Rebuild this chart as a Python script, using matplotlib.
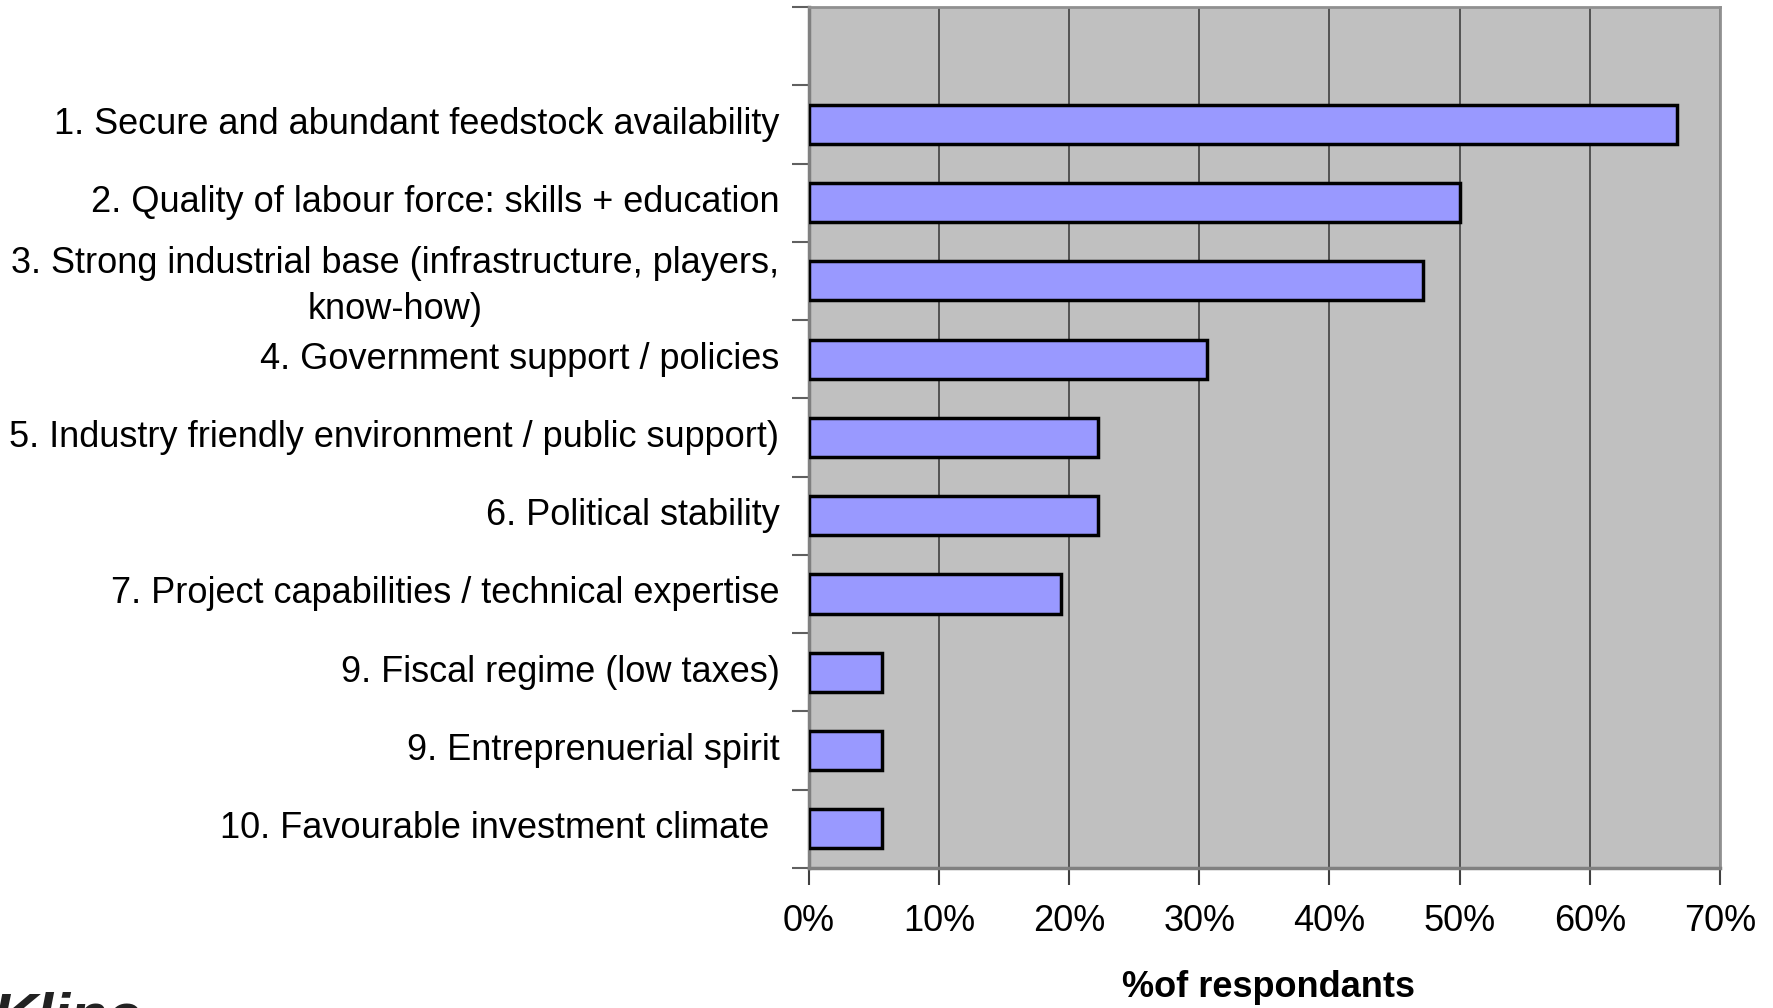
import numpy as np
import matplotlib
matplotlib.use("agg")
import matplotlib.pyplot as plt
from matplotlib.ticker import PercentFormatter, FixedLocator
from matplotlib.transforms import ScaledTranslation

plt.rcParams["font.family"] = ["Liberation Sans", "DejaVu Sans"]

factors = [
    "1. Secure and abundant feedstock availability",
    "2. Quality of labour force: skills + education",
    "3. Strong industrial base (infrastructure, players,\nknow-how)",
    "4. Government support / policies",
    "5. Industry friendly environment / public support)",
    "6. Political stability",
    "7. Project capabilities / technical expertise",
    "9. Fiscal regime (low taxes)",
    "9. Entreprenuerial spirit",
    "10. Favourable investment climate ",
]
share = [66.7, 50.0, 47.2, 30.6, 22.2, 22.2, 19.4, 5.6, 5.6, 5.6]
x_ticks = [0, 10, 20, 30, 40, 50, 60, 70]

fig = plt.figure(figsize=(17.73, 10.08), dpi=100)
ax = fig.add_axes([0.4561, 0.1389, 0.5140, 0.8542])
ax.set_facecolor("#C0C0C0")

# one empty slot at the top, factors below it
pos = np.arange(1, len(factors) + 1)
ax.barh(pos, share, height=0.5, color="#9999FF", edgecolor="black",
        linewidth=2.5, zorder=3)

ax.set_xlim(0, 70)
ax.set_ylim(len(factors) + 0.5, -0.5)
ax.set_xticks(x_ticks)
ax.xaxis.set_major_formatter(PercentFormatter(decimals=0))
ax.grid(axis="x", color="#404040", linewidth=1.2, zorder=1)

ax.yaxis.set_major_locator(FixedLocator(np.arange(-0.5, len(factors) + 1, 1)))
ax.yaxis.set_minor_locator(FixedLocator(pos))
ax.set_yticklabels([], minor=False)
ylabels = ax.set_yticklabels(factors, minor=True, fontsize=26,
                             multialignment="center", linespacing=1.4)
ax.tick_params(axis="y", which="major", length=12, width=1.5, color="#606060")
ax.tick_params(axis="y", which="minor", length=0, pad=21)
ax.tick_params(axis="x", length=12, width=1.5, color="#404040", pad=14,
               labelsize=26)

# nudge factor names up a little
shift = ScaledTranslation(0, 3 / 72, fig.dpi_scale_trans)
for lbl in ylabels:
    lbl.set_transform(lbl.get_transform() + shift)

for s in ["left", "bottom"]:
    ax.spines[s].set_color("#808080")
    ax.spines[s].set_linewidth(2.5)
for s in ["top", "right"]:
    ax.spines[s].set_color("#909090")
    ax.spines[s].set_linewidth(2)

fig.text(0.7157, 0.0109, "%of respondants", fontsize=26, fontweight="bold",
         ha="center", va="baseline")

# company logo, cut off by the page edge
fig.text(-0.004, 0.016, "Kline", fontsize=44, fontweight="bold",
         fontstyle="italic", color="#222222", va="top", ha="left")

fig.savefig("out.png", dpi=100)
